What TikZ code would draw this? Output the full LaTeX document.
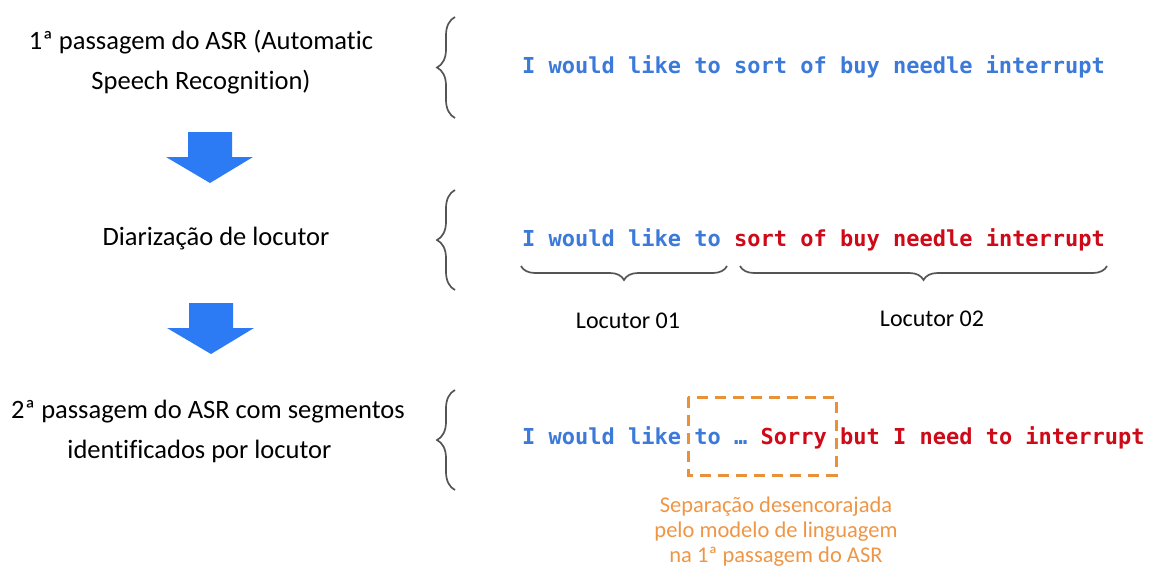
\documentclass[tikz,border=0pt]{standalone}
\usepackage{fontspec}
\setmainfont{Carlito}[Ligatures=NoCommon]
\newfontfamily\monob{DejaVu Sans Mono}
\usetikzlibrary{decorations.pathreplacing}
\definecolor{tblue}{RGB}{60,122,218}
\definecolor{tred}{RGB}{206,10,25}
\definecolor{aBlue}{RGB}{45,122,245}
\definecolor{bgray}{RGB}{85,85,85}
\definecolor{orng}{RGB}{232,145,56}
\definecolor{orngtxt}{RGB}{238,150,70}
\tikzset{
  lefttxt/.style={align=center,font=\fontsize{26.5}{40}\selectfont,inner sep=0pt},
  mono/.style={anchor=west,inner sep=0pt,font=\fontsize{22}{26}\monob\bfseries},
  lbrace/.style={decorate,decoration={brace,amplitude=18pt},draw=bgray,line width=1.7pt},
  ubrace/.style={decorate,decoration={brace,amplitude=14pt},draw=bgray,line width=1.7pt},
  bigarrow/.style={fill=aBlue,draw=none},
  loclabel/.style={font=\fontsize{24}{28}\selectfont,inner sep=0pt},
  dashbox/.style={draw=orng,line width=3pt,dash pattern=on 11pt off 7pt}
}
\begin{document}
\begin{tikzpicture}[x=1pt,y=-1pt]
\useasboundingbox (0,0) rectangle (1149,568);
% left texts
\node[lefttxt] (t1) at (201,62) {1ª passagem do ASR (Automatic\\Speech Recognition)};
\node[lefttxt] (t2) at (216,239) {Diarização de locutor};
\node[lefttxt] (t3) at (208,431) {2ª passagem do ASR com segmentos\\identificados por locutor\hspace*{17pt}};
% arrows
\fill[bigarrow] (188,132) -- (232,132) -- (232,157) -- (253,157) -- (210,183) -- (166,157) -- (188,157) -- cycle;
\fill[bigarrow] (189,303) -- (233,303) -- (233,328) -- (254,328) -- (211,354) -- (167,328) -- (189,328) -- cycle;
% left braces
\coordinate (b1t) at (455,17); \coordinate (b1b) at (455,118);
\coordinate (b2t) at (455,190); \coordinate (b2b) at (455,290);
\coordinate (b3t) at (455,390); \coordinate (b3b) at (455,490);
\draw[lbrace] (b1b) -- (b1t);
\draw[lbrace] (b2b) -- (b2t);
\draw[lbrace] (b3b) -- (b3t);
% row 1
\node[mono,text=tblue] (r1) at (522,67) {I would like to sort of buy needle interrupt};
% row 2
\node[mono,text=tblue] (r2) at (522,240) {I would like to \textcolor{tred}{sort of buy needle interrupt}};
% under braces
\coordinate (u1l) at (521,266); \coordinate (u1r) at (727,266);
\coordinate (u2l) at (740,266); \coordinate (u2r) at (1107,266);
\draw[ubrace] (u1r) -- (u1l);
\draw[ubrace] (u2r) -- (u2l);
\node[loclabel] (l1) at (628,321) {Locutor 01};
\node[loclabel] (l2) at (932,319) {Locutor 02};
% row 3
\node[mono,text=tblue] (r3) at (522,438) {I would like to … \textcolor{tred}{Sorry but I need to interrupt}};
\coordinate (dbtl) at (688,397); \coordinate (dbbr) at (836,475);
\draw[dashbox] (dbtl) rectangle (dbbr);
\node[loclabel,text=orngtxt,align=center,font=\fontsize{22.5}{25}\selectfont] (note) at (776,532) {Separação desencorajada\\pelo modelo de linguagem\\na 1ª passagem do ASR};
\end{tikzpicture}
\end{document}
